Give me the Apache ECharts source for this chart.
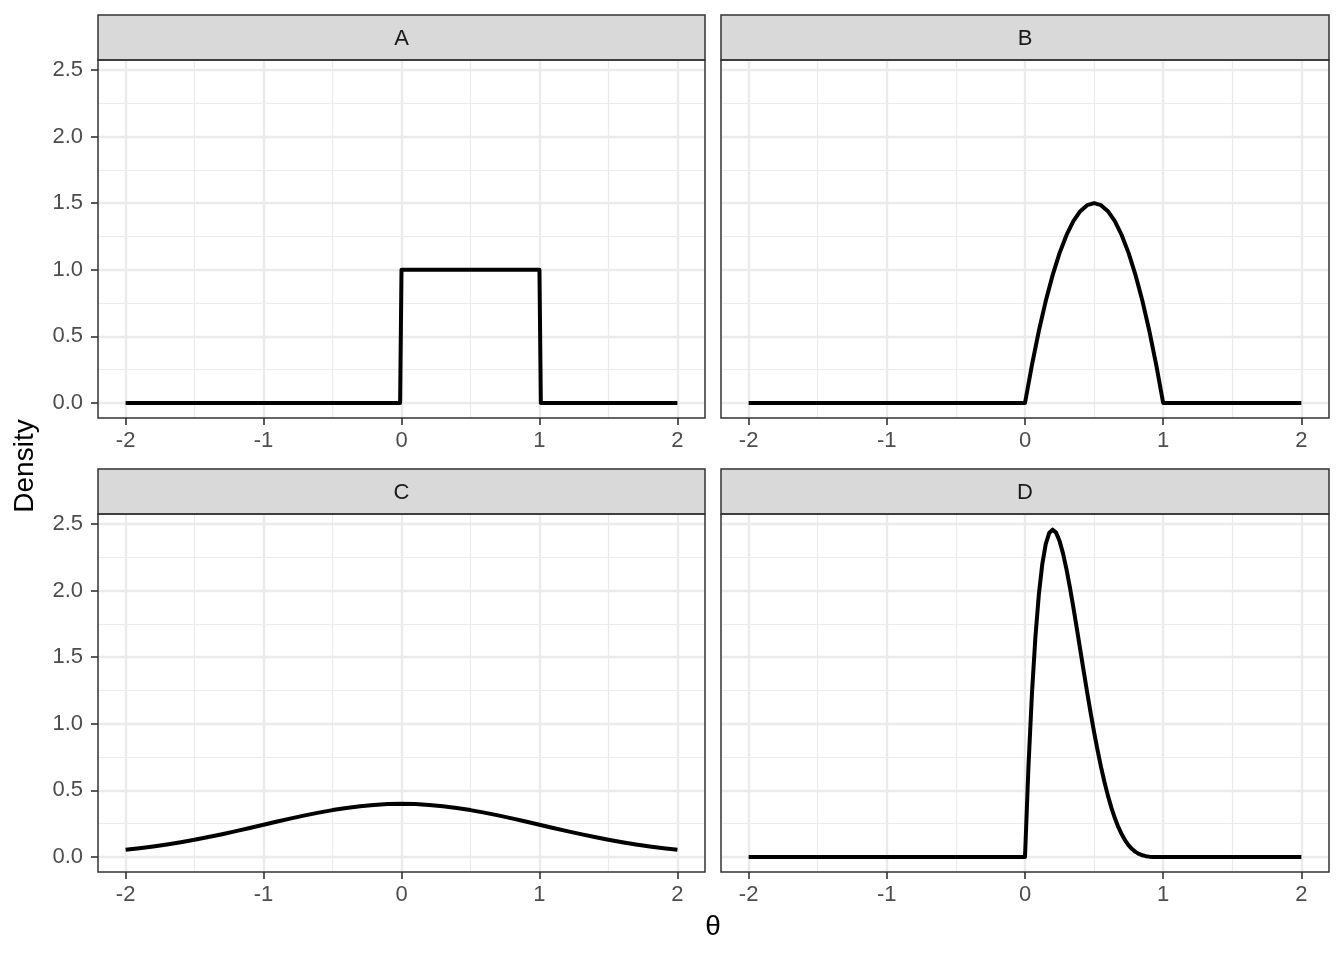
<!DOCTYPE html>
<html>
<head>
<meta charset="utf-8">
<script src="https://cdn.jsdelivr.net/npm/echarts@6/dist/echarts.min.js"></script>
<style>html,body{margin:0;padding:0;background:#fff}#c{width:1344px;height:960px}</style>
</head>
<body>
<div id="c"></div>
<script>
// ---- data ----
const panelNames = ['A', 'B', 'C', 'D'];
const xTicks = [-2, -1, 0, 1, 2];
const xMinor = [-1.5, -0.5, 0.5, 1.5];
const yTicks = [0, 0.5, 1, 1.5, 2, 2.5];
const yMinor = [0.25, 0.75, 1.25, 1.75, 2.25];

// A: uniform
const xA = [-2, -0.01, 0, 1, 1.01, 2];
const yA = [0, 0, 1, 1, 0, 0];
// B: hump on [0,1]
const xB = [-2, 0, 0.05, 0.1, 0.15, 0.2, 0.25, 0.3, 0.35, 0.4, 0.45, 0.5, 0.55, 0.6, 0.65, 0.7, 0.75, 0.8, 0.85, 0.9, 0.95, 1, 2];
const yB = [0, 0, 0.285, 0.54, 0.765, 0.96, 1.125, 1.26, 1.365, 1.44, 1.485, 1.5, 1.485, 1.44, 1.365, 1.26, 1.125, 0.96, 0.765, 0.54, 0.285, 0, 0];
// C: bell curve
const xC = [-2, -1.9, -1.8, -1.7, -1.6, -1.5, -1.4, -1.3, -1.2, -1.1, -1, -0.9, -0.8, -0.7, -0.6, -0.5, -0.4, -0.3, -0.2, -0.1, 0,
            0.1, 0.2, 0.3, 0.4, 0.5, 0.6, 0.7, 0.8, 0.9, 1, 1.1, 1.2, 1.3, 1.4, 1.5, 1.6, 1.7, 1.8, 1.9, 2];
const yC = [0.054, 0.0656, 0.079, 0.094, 0.1109, 0.1295, 0.1497, 0.1714, 0.1942, 0.2179, 0.242, 0.2661, 0.2897, 0.3123, 0.3332, 0.3521, 0.3683, 0.3814, 0.391, 0.397, 0.3989,
            0.397, 0.391, 0.3814, 0.3683, 0.3521, 0.3332, 0.3123, 0.2897, 0.2661, 0.242, 0.2179, 0.1942, 0.1714, 0.1497, 0.1295, 0.1109, 0.094, 0.079, 0.0656, 0.054];
// D: skewed peak
const xD = [-2, 0, 0.025, 0.05, 0.075, 0.1, 0.125, 0.15, 0.175, 0.2, 0.225, 0.25, 0.275, 0.3, 0.325, 0.35, 0.375, 0.4, 0.425, 0.45, 0.475, 0.5,
            0.525, 0.55, 0.575, 0.6, 0.625, 0.65, 0.675, 0.7, 0.725, 0.75, 0.775, 0.8, 0.825, 0.85, 0.875, 0.9, 0.925, 0.95, 0.975, 1, 2];
const yD = [0, 0, 0.6778, 1.2218, 1.6472, 1.9683, 2.1982, 2.349, 2.4321, 2.4576, 2.4351, 2.373, 2.2793, 2.1609, 2.024, 1.8743, 1.7166, 1.5552, 1.3937, 1.2353, 1.0826, 0.9375,
            0.8018, 0.6766, 0.5628, 0.4608, 0.3708, 0.2926, 0.2259, 0.1701, 0.1244, 0.0879, 0.0596, 0.0384, 0.0232, 0.0129, 0.0064, 0.0027, 0.0009, 0.0002, 0.00001, 0, 0];

const xsAll = [xA, xB, xC, xD];
const ysAll = [yA, yB, yC, yD];

// ---- layout ----
const panels = [
  {left: 98, top: 60, width: 607, height: 358},
  {left: 721, top: 60, width: 608, height: 358},
  {left: 98, top: 514, width: 607, height: 358},
  {left: 721, top: 514, width: 608, height: 358}
];
const stripH = 45;
const X_MIN = -2.2, X_MAX = 2.2;
const Y_MIN = -0.1126, Y_MAX = 2.575;
const FONT = '"Liberation Sans", Arial, Helvetica, sans-serif';

const grid = [], xAxis = [], yAxis = [], series = [], graphic = [];

panels.forEach((p, i) => {
  grid.push({left: p.left, top: p.top, width: p.width, height: p.height, show: false});
  const showY = (i % 2 === 0);
  // major x
  xAxis.push({
    type: 'value', gridIndex: i, min: X_MIN, max: X_MAX, position: 'bottom',
    axisLine: {show: false, onZero: false},
    axisTick: {show: true, customValues: xTicks, length: 7, lineStyle: {color: '#333333', width: 1.6}},
    axisLabel: {show: true, customValues: xTicks, margin: 12, color: '#4D4D4D', fontSize: 22, fontFamily: FONT,
                formatter: v => String(v)},
    splitLine: {show: true, lineStyle: {color: '#EBEBEB', width: 2.4}},
    minorSplitLine: {show: false}
  });
  // minor x
  xAxis.push({
    type: 'value', gridIndex: i, min: X_MIN, max: X_MAX, position: 'top',
    axisLine: {show: false, onZero: false},
    axisTick: {show: false, customValues: xMinor},
    axisLabel: {show: false, customValues: xMinor},
    splitLine: {show: true, lineStyle: {color: '#EBEBEB', width: 1.2}}
  });
  // major y
  yAxis.push({
    type: 'value', gridIndex: i, min: Y_MIN, max: Y_MAX, position: 'left',
    axisLine: {show: false, onZero: false},
    axisTick: {show: showY, customValues: yTicks, length: 7, lineStyle: {color: '#333333', width: 1.6}},
    axisLabel: {show: showY, customValues: yTicks, margin: 15, color: '#4D4D4D', fontSize: 22, fontFamily: FONT,
                formatter: v => v.toFixed(1)},
    splitLine: {show: true, lineStyle: {color: '#EBEBEB', width: 2.4}}
  });
  // minor y
  yAxis.push({
    type: 'value', gridIndex: i, min: Y_MIN, max: Y_MAX, position: 'right',
    axisLine: {show: false, onZero: false},
    axisTick: {show: false, customValues: yMinor},
    axisLabel: {show: false, customValues: yMinor},
    splitLine: {show: true, lineStyle: {color: '#EBEBEB', width: 1.2}}
  });

  const xs = xsAll[i], ys = ysAll[i];
  series.push({
    type: 'line', xAxisIndex: 2 * i, yAxisIndex: 2 * i,
    data: xs.map((x, k) => [x, ys[k]]),
    showSymbol: false, symbol: 'none', smooth: false, animation: false,
    lineStyle: {color: '#000000', width: 4, join: 'round'},
    z: 5
  });

  // panel border
  graphic.push({
    type: 'rect', z: 100,
    shape: {x: p.left, y: p.top, width: p.width, height: p.height},
    style: {fill: 'none', stroke: '#333333', lineWidth: 1.5}
  });
  // strip
  graphic.push({
    type: 'rect', z: 99,
    shape: {x: p.left, y: p.top - stripH, width: p.width, height: stripH},
    style: {fill: '#D9D9D9', stroke: '#333333', lineWidth: 1.5}
  });
  graphic.push({
    type: 'text', z: 101,
    x: p.left + p.width / 2, y: p.top - stripH / 2 + 1,
    style: {text: panelNames[i], fill: '#1A1A1A', font: '22px ' + FONT, align: 'center', verticalAlign: 'middle'}
  });
});

graphic.push({
  type: 'text', z: 101, x: 25, y: 466, rotation: Math.PI / 2,
  style: {text: 'Density', fill: '#000000', font: '28px ' + FONT, align: 'center', verticalAlign: 'middle'}
});
graphic.push({
  type: 'text', z: 101, x: 713, y: 927,
  style: {text: 'θ', fill: '#000000', font: '28px ' + FONT, align: 'center', verticalAlign: 'middle'}
});

const chart = echarts.init(document.getElementById('c'), null, {renderer: 'canvas'});
chart.setOption({
  animation: false,
  backgroundColor: '#ffffff',
  grid, xAxis, yAxis, series, graphic
});
</script>
</body>
</html>
